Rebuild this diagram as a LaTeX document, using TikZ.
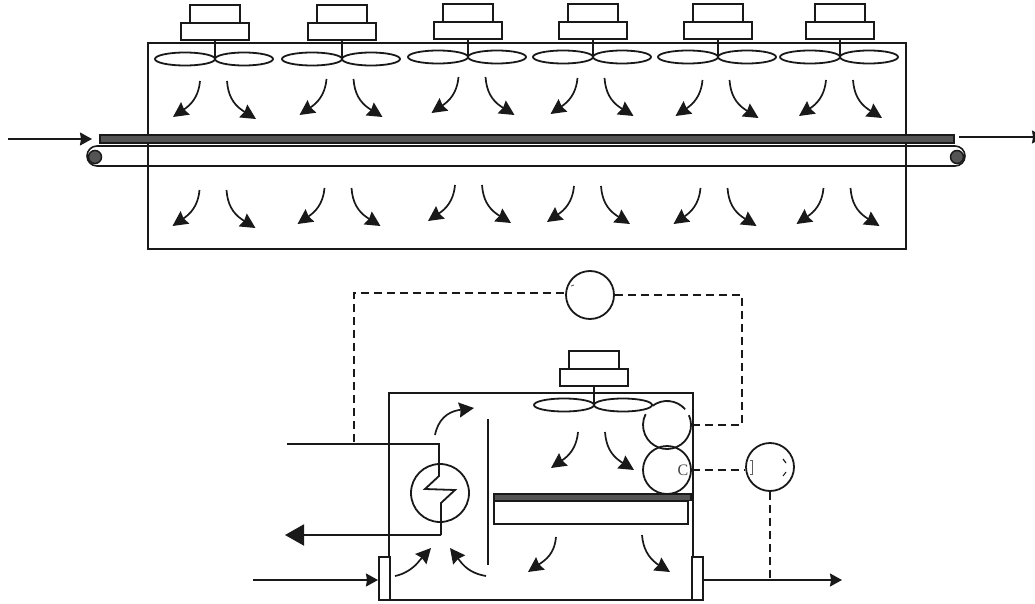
\documentclass[tikz,border=0pt]{standalone}
\usepackage{fontspec}
\setmainfont{Liberation Serif}
\usetikzlibrary{arrows.meta}
\definecolor{ink}{gray}{0.1}
\definecolor{band}{gray}{0.33}
\tikzset{
  ln/.style={draw=ink,line width=1.8pt},
  thin ln/.style={draw=ink,line width=1.6pt},
  dash ln/.style={draw=ink,line width=1.7pt,dash pattern=on 8pt off 5pt},
  flow/.style={draw=ink,line width=1.7pt,-{Stealth[length=15pt,width=15pt,inset=1.5pt]}},
  feed/.style={draw=ink,line width=1.5pt,-{Stealth[length=12pt,width=13pt,inset=1pt]}},
  meter/.style={circle,draw=ink,line width=1.8pt,inner sep=0pt,minimum size=48pt},
  conv/.style={draw=ink,line width=1.5pt,fill=band},
}
\newcommand{\fanunit}[3]{%
  \draw[ln] (#1-25,#3-35) rectangle (#1+25,#3-17);
  \draw[ln] (#1-34,#3-17) rectangle (#1+34,#3);
  \draw[ln] (#1,#3) -- (#1,#2);
  \draw[ln] (#1-30,#2) ellipse (30pt and 6.5pt);
  \draw[ln] (#1+29,#2) ellipse (29pt and 6.5pt);
}
\newcommand{\flowpair}[2]{%
  \draw[flow] (#1-14,#2) .. controls (#1-15,#2+12) and (#1-20,#2+21) .. (#1-28,#2+27) -- (#1-41,#2+36);
  \draw[flow] (#1+13,#2) .. controls (#1+14,#2+14) and (#1+19,#2+23) .. (#1+28.5,#2+29.5) -- (#1+42,#2+38);
}
\begin{document}
\begin{tikzpicture}[x=1pt,y=-1pt]
\useasboundingbox (0,0) rectangle (1035,604);
\clip (0,0) rectangle (1035,604);
% upper chamber
\draw[ln] (148,43) rectangle (906,249);
\fanunit{215}{59}{40}
\fanunit{342}{59}{40}
\fanunit{468}{57}{39}
\fanunit{593}{57}{39}
\fanunit{718}{57}{39}
\fanunit{840}{57}{39}
\flowpair{214}{81}
\flowpair{340.5}{79}
\flowpair{472.5}{77}
\flowpair{591.5}{78}
\flowpair{716.5}{80}
\flowpair{840}{80}
\flowpair{213.5}{190}
\flowpair{338.5}{188}
\flowpair{469}{185}
\flowpair{588}{186}
\flowpair{714.5}{188}
\flowpair{837.5}{188}
% belt
\draw[thin ln] (97,146) -- (955,146) arc (90:-90:10pt) -- (97,166) arc (270:90:10pt) -- cycle;
\node[conv,circle,inner sep=0pt,minimum size=13pt] (roll1) at (95,157) {};
\node[conv,circle,inner sep=0pt,minimum size=13pt] (roll2) at (957,157) {};
\draw[conv] (100,135) rectangle (954,143);
\coordinate (inA) at (8,139);
\coordinate (inB) at (92,139);
\coordinate (outA) at (959,137);
\coordinate (outB) at (1044,137);
\draw[feed] (inA) -- (inB);
\draw[feed] (outA) -- (outB);
% lower chamber
\draw[ln] (389,393) rectangle (693,600);
\fanunit{594}{405}{386}
\flowpair{592}{432}
\draw[flow] (556,537) .. controls (555,549) and (550,557) .. (541,563) -- (528,572);
\draw[flow] (642,535) .. controls (643,548) and (648,557) .. (656.5,563.5) -- (670,572);
\draw[flow] (486,576) .. controls (474,574) and (466,569) .. (460,561) -- (450,548);
\draw[flow] (395,576) .. controls (405,574) and (414,568) .. (420,560) -- (431,548);
\draw[flow] (435,435) .. controls (438,420) and (447,412) .. (459,410) -- (474,408);
\draw[ln] (488,419) -- (488,565);
% conveyor section
\draw[ln] (494,501) rectangle (688,524);
\draw[conv] (494,494) rectangle (691,500.5);
% sensors
\node[meter] (top) at (590,295) {};
\node[meter] (right) at (770,467) {};
\node[meter,draw=none] (s1) at (667,425) {};
\draw[ln] ([shift={(24:24pt)}]s1.center) arc (24:-207:24pt);
\draw[ln] ([shift={(127:24pt)}]s1.center) arc (127:41:24pt);
\node[meter] (s2) at (667,470) {};
\node[font=\fontsize{16}{16}\selectfont,text=ink!80,inner sep=0pt] (c) at (683,470) {C};
% print residue inside the circles
\draw[draw=ink!70,line width=0.7pt] (750,460) -- (752,460) -- (752,474) -- (750,474);
\draw[draw=ink,line width=1.2pt] (783,459) -- (786,463);
\draw[draw=ink,line width=1pt] (786,472) -- (783,476);
\draw[draw=ink!70,line width=0.9pt] (571,286) -- (574,285);
% valves
\draw[ln,fill=white] (379,557) rectangle (390,600);
\draw[ln,fill=white] (692,557) rectangle (703,600);
% heater
\node[circle,draw=ink,line width=1.8pt,minimum size=58pt,inner sep=0pt] (hx) at (440,493) {};
\coordinate (hxIn) at (287,444);
\coordinate (hxTop) at (439,444);
\coordinate (hxOut) at (441,535);
\coordinate (hxEnd) at (285,535);
\draw[ln] (hxIn) -- (hxTop) -- (439,476) -- (425,489) -- (455,490) -- (441,503) -- (hxOut);
\draw[draw=ink,line width=2pt,-{Stealth[length=19pt,width=21pt,inset=0pt]}] (hxOut) -- (hxEnd);
% pipes
\coordinate (airIn) at (253,580);
\coordinate (airInEnd) at (378,580);
\draw[feed] (airIn) -- (airInEnd);
\coordinate (airOutStart) at (703,580);
\coordinate (airOut) at (842,580);
\draw[feed] (airOutStart) -- (airOut);
\coordinate (tap) at (770,579);
\coordinate (hxTap) at (354,442);
\coordinate (cornerA) at (354,293);
\coordinate (cornerB) at (742,295);
\coordinate (cornerC) at (742,425);
\coordinate (wallA) at (692,425);
% dashed
\draw[dash ln] (hxTap) -- (cornerA) -- (cornerA -| top.west);
\draw[dash ln] (top.east) -- (cornerB) -- (cornerC) -- (wallA);
\draw[dash ln] (s2.east) -- (s2.east -| right.west);
\draw[dash ln] (right.south) -- (tap);
\end{tikzpicture}
\end{document}
